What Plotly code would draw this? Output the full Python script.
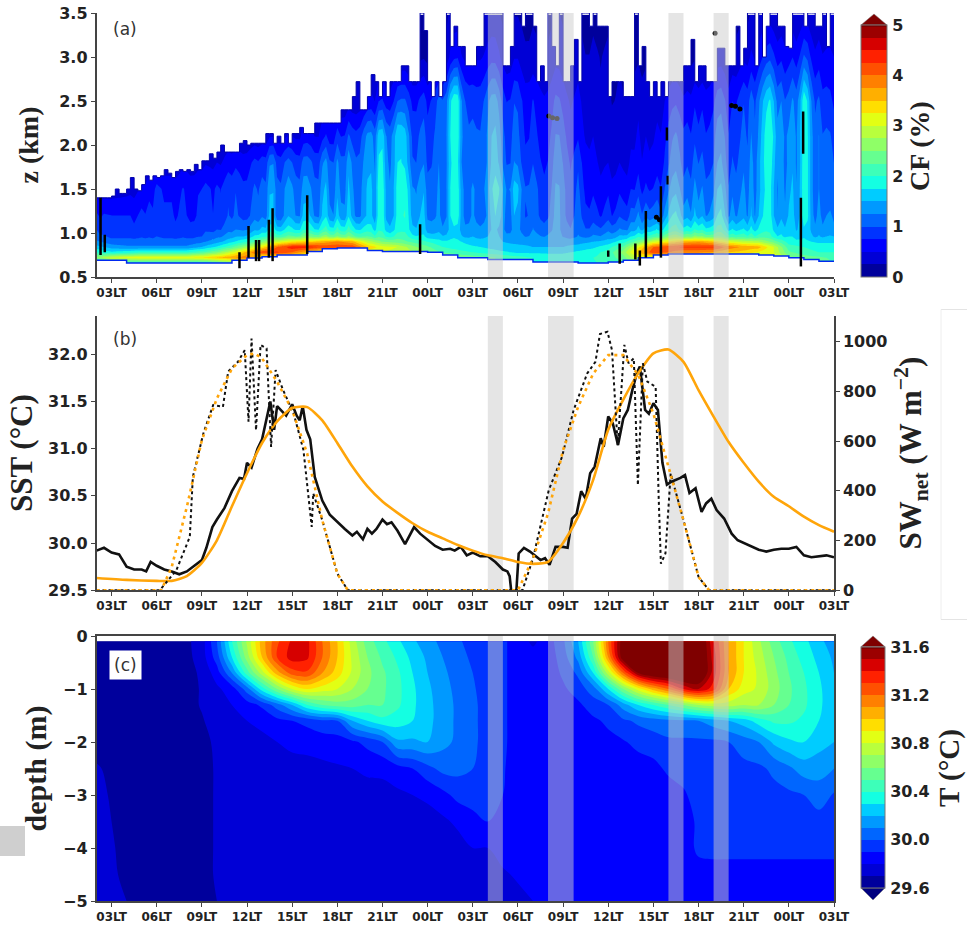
import numpy as np
import plotly.graph_objects as go

W, H = 967, 929
TITLE_FONT = "Liberation Serif"
TICK_FONT = "DejaVu Sans"
AXC = "#444444"
TXT = "#222222"
ORANGE = "#ffa50a"

xtick_vals = list(range(3, 52, 3))
xtick_text = ["03LT", "06LT", "09LT", "12LT", "15LT", "18LT", "21LT", "00LT", "03LT",
              "06LT", "09LT", "12LT", "15LT", "18LT", "21LT", "00LT", "03LT"]

band_start = [28, 32, 40, 43]
band_end = [29, 33.7, 41, 44]

# ---- panel (a): cloud fraction, hourly columns t=2..51
cf_hours = list(range(2, 52))
cf_heights = [0.66, 0.72, 0.78, 0.84, 0.90, 0.96, 1.04, 1.2, 1.5, 1.8, 2.1, 2.5, 3.0, 3.48]
cf_066 = [1.5,2,2,2,2,2,2,2,2.2,2.5, 3,3,3,3,3,3,3,3,3,3, 3,3,3,3,3,3,2.5,2,2,2, 2,2,2,2,2,2.2,2.6,3,3,3, 3,3,3,3,3,3,3,3,2.5,2.2]
cf_072 = [2.6,3.0,3.1,3.2,3.2,3.2,3.2,3.3,3.5,3.7, 3.9,3,3,3,3,3,3,3,3,3, 3,3,3,3,2.5,2.4,2.3,2.2,2.1,2.0, 1.9,1.9,1.9,2.0,2.1,2.4,3.0,3,3,3, 3,3,3,3,3,3.2,2.6,2.4,2.3,2.2]
cf_078 = [2.0,1.8,1.9,2,2,2,2,2.2,2.5,3, 3.6,4.2,4.3,4,3.5,3,3,3,3,3, 2.9,2.8,2.5,2.2,2.1,2.0,1.9,1.8,1.7,1.7, 1.7,1.7,1.8,1.9,2.1,2.6,3.5,4.2,4,3.8, 3.8,3.7,3.5,3.4,3.2,3,2.3,2.1,2,2]
cf_084 = [1.6,1.4,1.3,1.3,1.3,1.3,1.3,1.5,1.8,2.2, 2.7,3.3,4.0,4.4,4.4,4.2,4.2,4.2,3.5,3.1, 3.0,2.6,2.3,2.0,1.9,1.8,1.7,1.6,1.6,1.5, 1.5,1.5,1.6,1.7,1.9,2.3,3.2,4.0,4.2,4.3, 4.3,4.3,3.9,3.7,3.6,3,2.1,2.0,1.9,1.9]
cf_090 = [1.3,1.1,1.1,1.1,1.1,1.1,1.1,1.2,1.4,1.7, 2.0,2.5,3.0,3.3,3.4,3.6,3.8,3.6,2.9,2.5, 2.4,2.2,2.0,1.8,1.8,1.6,1.6,1.5,1.4,1.4, 1.4,1.4,1.4,1.5,1.6,1.9,2.4,3,3.3,3.6, 3.7,3.5,3.1,2.9,2.8,2.4,1.9,1.8,1.7,1.7]
cf_096 = [1.1,.95,.95,.95,.95,.95,.95,1.0,1.2,1.4, 1.6,1.9,2.2,2.3,2.4,2.5,2.5,2.4,2.2,2.0, 2.0,1.9,1.7,1.6,1.6,1.5,1.5,1.4,1.3,1.3, 1.3,1.2,1.2,1.3,1.4,1.6,1.9,2.2,2.4,2.5, 2.6,2.4,2.2,2.1,2.1,1.9,1.7,1.6,1.5,1.5]
cf_104 = [1.0,.85,.85,.85,.85,.85,.85,.9,1.0,1.15, 1.3,1.5,1.7,1.8,1.8,1.9,2.0,1.9,1.8,1.7, 1.7,1.7,1.5,1.4,1.5,1.4,1.4,1.3,1.2,1.2, 1.2,1.1,1.1,1.1,1.2,1.3,1.5,1.7,1.8,1.9, 2.0,1.9,1.8,1.7,1.8,1.7,1.6,1.5,1.4,1.3]
cf_120 = [.8,.75,.75,.75,.8,.8,.75,.8,.85,.95, 1.0,1.1,1.2,1.4,1.3,1.4,1.5,1.4,1.4,1.5, 1.5,1.6,1.4,1.3,1.6,1.3,1.3,1.4,1.2,1.1, 1.0,1.0,1.0,.9,.9,1.0,1.2,1.2,1.3,1.5, 1.5,1.4,1.4,1.3,1.5,1.5,1.4,1.5,1.3,1.2]
cf_150 = [.35,.35,.4,.5,.7,.7,.7,.75,.8,.9, .9,1,1.2,1.3,1.1,1.3,1.3,1.3,1.4,1.5, 1.5,1.5,1.3,1.3,1.6,1.3,1.4,1.5,1.3,1.1, .9,1.0,.9,.7,.7,.7,.8,.8,1.0,1.2, 1.3,1.2,1.2,1.2,1.4,1.5,1.3,1.5,1.2,1]
cf_180 = [.3,.3,.3,.3,.3,.3,.4,.4,.5,.6, .7,.8,1.0,1,.9,1.1,1.2,1.2,1.3,1.4, 1.4,1.2,1.1,1.3,1.5,1.1,1.3,1.2,1,.9, .8,.9,.8,.6,.5,.5,.6,.6,.8,1.0, 1.1,1.0,1.0,1.1,1.4,1.6,1.2,1.5,1.2,1]
cf_210 = [.3,.3,.3,.3,.3,.3,.3,.3,.3,.3, .3,.3,.4,.5,.5,.6,.8,.9,1.2,1.3, 1.4,1.1,1.0,1.3,1.6,1.1,1.3,1.1,.9,.8, .7,.8,.6,.5,.4,.4,.5,.5,.7,.9, .9,.9,.9,1,1.3,1.7,1.2,1.5,1.2,.9]
cf_250 = [.3,.3,.3,.3,.3,.3,.3,.3,.3,.3, .3,.3,.3,.3,.3,.3,.3,.3,.5,.6, .8,.8,.8,1.2,1.6,.9,1.2,.9,.8,.7, .6,.6,.5,.4,.3,.3,.4,.4,.5,.6, .7,.7,.7,.9,1.2,1.5,1,1.5,1,.7]
cf_300 = [.2,.2,.2,.2,.2,.2,.2,.2,.2,.2, .2,.2,.2,.2,.2,.2,.2,.2,.2,.2, .2,.2,.2,.3,.6,.5,.6,.4,.4,.3, .3,.3,.3,.3,.3,.2,.2,.2,.2,.2, .2,.3,.3,.4,.6,.8,.6,.8,.6,.5]
cf_350 = [.2,.2,.2,.2,.2,.2,.2,.2,.2,.2, .2,.2,.2,.2,.2,.2,.2,.2,.2,.2, .2,.2,.2,.2,.3,.3,.3,.2,.2,.2, .2,.2,.2,.2,.2,.2,.2,.2,.2,.2, .2,.2,.2,.2,.3,.3,.3,.3,.3,.3]
cf_table = [cf_066, cf_072, cf_078, cf_084, cf_090, cf_096, cf_104, cf_120, cf_150, cf_180, cf_210, cf_250, cf_300, cf_350]

# quarter-hourly streak strength read from the vertical stripes above the ridge
cf_streaks = [
    1,.9,1,1, 1,1,1,1, 1,1,.9,1, 1.1,1,1.1,1, 1.2,1.1,1,1, 1,.9,1,1.1, 1,.9,.9,1,
    1,1.1,1,.9, 1,.9,1,1.1, 1,1.1,1,.9, .9,1,1.1,1, 1.1,1,1.35,1.3, .9,.85,1,1.1, 1,.9,.9,1.2,
    1.25,1.1,.9,.85, 1.1,1.2,.9,.85, 1.1,.9,.9,1.2, 1,.85,.85,1.0, 1.1,1.1,.9,1.3, 1.3,.95,.85,1,
    1.25,1.3,1.3,1.1, .85,.85,1,1.1, .85,.85,.9,1, .85,.9,1.2,1.3, 1.2,.9,.8,.85, 1,.9,.85,.9,
    1,1.2,1.3,1.2, 1,.85,.9,1.2, 1.2,1,.85,.9, 1.1,1,.9,.85, .95,1.1,1.35,1.3, 1.1,.95,.85,1,
    1.2,1,.85,.85, 1,.9,.8,.9, 1,.8,.85,1, .9,.8,1,.95, 1.1,.85,1,.9, .95,1,.85,1.05,
    1.2,1.3,1.3,1.1, .9,.95,.85,1.05, .9,1,.85,.9, 1,1.25,1.3,1.1, .85,1,.9,1, 1.1,.9,1.1,.85,
    1,1.15,1.25,1.25, 1,.85,1,.9, 1.1,1.15,.9,1.05, 1.3,1.25,1,.85, 1.05,.9,1,1.05, 1]
streak_weight = [0, 0, 0, 0, 0, 0.3, 0.5, 1, 1, 1, 1, 1, 1, 1]

# cloud top, quarter-hour steps from t=2
cloud_top = [
    1.40,1.40,1.40,1.40, 1.42,1.50,1.45,1.45, 1.50,1.63,1.50,1.48, 1.55,1.65,1.60,1.65,
    1.63,1.65,1.72,1.68, 1.63,1.70,1.72,1.70, 1.72,1.70,1.78,1.72, 1.82,1.82,1.90,1.85,
    1.92,2.00,1.92,1.92, 1.92,1.92,2.02,2.05, 2.00,2.02,2.02,2.02, 2.02,2.13,2.13,2.02,
    2.10,2.02,2.13,2.02, 2.13,2.13,2.20,2.13, 2.13,2.13,2.25,2.25, 2.25,2.25,2.25,2.25,
    2.25,2.40,2.40,2.40, 2.55,2.72,2.40,2.40, 2.55,2.80,2.72,2.55, 2.72,2.55,2.72,2.72,
    2.72,2.90,2.90,2.72, 2.72,2.72,3.50,3.30, 2.72,2.55,2.72,2.55, 2.72,3.50,3.12,3.35,
    3.12,3.12,2.90,2.90, 2.90,3.12,3.12,3.50, 3.50,3.50,3.50,3.50, 2.90,2.90,3.12,3.50,
    3.50,3.35,3.50,3.50, 3.35,2.72,2.90,2.72, 3.50,3.12,2.90,3.50, 2.72,2.72,2.90,3.20,
    2.72,3.50,3.50,3.35, 3.50,3.35,3.35,3.35, 2.55,2.72,2.72,2.72, 2.55,2.55,2.55,3.50,
    2.90,3.12,2.72,2.55, 2.72,2.55,2.72,2.55, 2.72,2.72,2.72,2.72, 2.90,2.90,3.20,2.72,
    2.90,2.90,2.72,2.72, 2.72,3.10,3.10,2.90, 2.90,2.90,3.35,2.90, 3.10,3.50,3.50,2.90,
    3.50,3.00,3.35,3.50, 3.50,3.35,3.35,3.12, 3.10,3.50,3.50,3.50, 3.35,3.50,3.50,3.35,
    3.35,3.50,3.12,3.50, 3.50]
top_hours = [2 + 0.25 * i for i in range(len(cloud_top))]

# cloud base, hourly
cloud_base = [0.69,0.69,0.66,0.66,0.66,0.66,0.66,0.66,0.66,0.69, 0.715,0.73,0.75,0.75,0.79,0.82,0.83,0.83,0.80,0.79,
              0.79,0.79,0.78,0.75,0.72,0.72,0.70,0.70,0.70,0.67, 0.67,0.67,0.66,0.66,0.67,0.69,0.72,0.75,0.76,0.76,
              0.76,0.76,0.76,0.76,0.75,0.74,0.72,0.70,0.68,0.68]

# instrument artefacts
art_hours = [2.27,2.55,11.5,12.1,12.6,12.8,13.45,13.7,16.0,23.5,36.76,36.0,37.8,38.1,38.5,39.5,48.8,48.95,39.9,39.95]
art_low = [0.75,0.78,0.60,0.72,0.68,0.68,0.72,0.68,0.76,0.76,0.65,0.73,0.70,0.63,0.72,0.72,0.62,1.9,2.05,1.55]
art_high = [1.40,0.98,0.78,1.08,0.92,0.92,1.15,1.28,1.43,1.10,0.88,0.80,0.88,0.80,1.25,1.53,1.40,2.38,2.2,1.65]
blob_hours = [32.05,32.3,32.6,44.2,44.45,44.75,43.1,39.2,39.4]
blob_heights = [2.33,2.31,2.3,2.45,2.44,2.41,3.27,1.18,1.15]

# ---- panel (b)
sst_hours = [2,2.5,3,3.5,4,4.5,5,5.3,5.6,6,6.5,7,7.5,8,8.5,9,9.3,9.7,10,10.5,11,11.5,11.8,12,12.3,12.7,13,13.3,13.55,13.8,14,14.3,14.6,15,15.3,15.5,15.7,15.95,16.2,16.5,16.8,17,17.5,18,18.5,19,19.3,19.7,20,20.3,20.6,21,21.3,21.6,22,22.5,23.1,23.5,24,24.5,25,25.5,25.8,26.2,26.6,27,27.5,
             28,28.5,29,29.3,29.45,29.55,29.9,30.05,30.4,30.8,31.5,31.8,32.1,32.5,33,33.3,33.6,33.9,34.2,34.5,34.8,35.1,35.5,35.7,36,36.3,36.65,37,37.3,37.6,37.9,38.1,38.45,38.7,39,39.3,39.6,39.9,40.2,40.8,41.1,41.4,41.8,42.2,42.5,42.85,43.2,43.7,44.2,44.6,45,45.5,46,46.5,47,47.5,48,48.5,49,49.5,50,50.5,51]
sst_obs = [29.92,29.95,29.9,29.88,29.75,29.72,29.72,29.7,29.8,29.76,29.72,29.7,29.67,29.7,29.76,29.82,29.95,30.17,30.25,30.37,30.55,30.69,30.68,30.85,30.8,31.0,31.1,31.3,31.5,31.2,31.45,31.4,31.35,31.47,31.35,31.3,31.45,31.2,31.1,30.7,30.55,30.45,30.3,30.22,30.15,30.08,30.12,30.04,30.15,30.1,30.15,30.25,30.2,30.22,30.13,29.99,30.17,30.1,30.03,29.97,29.93,29.94,29.92,29.96,29.87,29.9,29.86,
           29.86,29.8,29.72,29.7,29.65,29.5,29.5,29.89,29.95,29.91,29.82,29.84,29.77,29.96,29.96,29.95,30.26,30.31,30.55,30.47,30.74,30.81,31.11,31.02,31.34,31.27,31.04,31.32,31.41,31.62,31.8,31.87,31.41,31.37,31.48,31.41,30.85,30.62,30.65,30.69,30.72,30.53,30.58,30.33,30.42,30.47,30.35,30.26,30.1,30.03,30.0,29.96,29.93,29.91,29.93,29.94,29.94,29.96,29.87,29.85,29.86,29.87,29.85]
model_hours = [2,4,6,7,8,9,10,11,12,13,14,15,16,17,18,19,20,21,22,23,24,25,26,27,28,29,30,31,32,33,34,35,36,37,38,39,40,41,42,43,44,45,46,47,48,49,50,51]
sst_model = [29.63,29.61,29.6,29.6,29.65,29.79,30.03,30.39,30.74,31.06,31.29,31.43,31.44,31.3,31.06,30.81,30.6,30.44,30.32,30.21,30.12,30.05,29.98,29.92,29.87,29.84,29.8,29.78,29.8,30.0,30.28,30.67,31.2,31.52,31.8,32.01,32.05,31.92,31.62,31.34,31.07,30.85,30.65,30.49,30.39,30.28,30.19,30.12]
sw_clear_hours = [2,6.3,7,8,9,10,11,12,12.5,13,14,15,16,17,18,18.7,30,31,32,33,34,35,36,37,38,39,40,41,42,42.7,51]
sw_clear = [0,0,94,335,604,772,892,946,953,933,839,725,550,282,67,0,0,128,309,564,738,872,946,946,866,711,497,282,54,0,0]
sw_obs_hours = [2,6.2,7.3,8.2,8.4,9.1,9.75,10.4,10.75,11.4,11.85,12.1,12.3,12.6,12.9,13.3,13.6,13.9,14.4,15.1,15.75,16.3,16.4,17,18,18.7,30.3,31,32.05,32.93,33.7,34.6,35.15,35.45,35.95,36.25,36.63,37.07,37.35,37.7,37.97,38.3,38.6,39.15,39.35,39.5,39.8,40.15,41,42,42.7,51]
sw_obs = [0,0,80,215,456,631,745,738,880,919,966,678,1013,644,987,973,577,886,805,711,564,255,390,282,67,0,0,128,403,537,725,872,919,1031,1040,966,584,987,913,933,423,913,839,819,376,107,148,470,282,54,0,0]

# ---- panel (c): temperature, one list per hour column
temp_hours = [2,4,6,8,9,10,11,12,13,14,15,16,17,18,19,20,21,22,23,24,25,26,27,28,29,30,31,32,33,34,35,36,37,38,39,40,41,42,43,44,45,46,47,48,49,50,51]
temp_depths = [-0.1,-0.4,-0.7,-1.0,-1.3,-1.6,-2.0,-2.5,-3.0,-3.5,-4.0,-4.5,-5.0]
temp_columns = [
 [29.65,29.65,29.65,29.65,29.65,29.65,29.66,29.71,29.73,29.74,29.75,29.75,29.76],
 [29.65,29.65,29.65,29.65,29.65,29.65,29.65,29.65,29.65,29.66,29.67,29.68,29.70],
 [29.65,29.65,29.65,29.65,29.65,29.65,29.65,29.65,29.65,29.65,29.65,29.65,29.65],
 [29.68,29.67,29.66,29.66,29.66,29.66,29.66,29.66,29.66,29.66,29.66,29.66,29.66],
 [29.75,29.75,29.72,29.71,29.71,29.69,29.67,29.67,29.67,29.67,29.67,29.67,29.67],
 [30.0,29.95,29.85,29.78,29.76,29.75,29.72,29.71,29.71,29.71,29.71,29.71,29.70],
 [30.4,30.3,30.1,29.85,29.8,29.76,29.75,29.75,29.75,29.75,29.75,29.75,29.75],
 [30.72,30.65,30.45,30.05,29.85,29.8,29.76,29.75,29.75,29.75,29.75,29.75,29.75],
 [31.05,31.0,30.75,30.35,29.92,29.82,29.78,29.76,29.75,29.75,29.75,29.75,29.75],
 [31.28,31.3,31.05,30.6,30.05,29.87,29.8,29.76,29.75,29.75,29.75,29.75,29.75],
 [31.42,31.45,31.25,30.8,30.2,29.9,29.82,29.77,29.75,29.75,29.75,29.75,29.75],
 [31.43,31.42,31.28,30.9,30.4,29.93,29.83,29.77,29.75,29.75,29.75,29.75,29.75],
 [31.2,31.2,31.1,30.85,30.5,29.98,29.84,29.78,29.75,29.75,29.75,29.75,29.75],
 [31.0,31.0,30.95,30.8,30.55,30.0,29.85,29.79,29.75,29.75,29.75,29.75,29.75],
 [30.75,30.78,30.78,30.7,30.55,30.2,29.88,29.8,29.76,29.75,29.75,29.75,29.75],
 [30.55,30.6,30.63,30.6,30.5,30.3,29.93,29.82,29.76,29.75,29.75,29.75,29.75],
 [30.43,30.48,30.52,30.52,30.5,30.37,30.0,29.82,29.77,29.75,29.75,29.75,29.75],
 [30.32,30.38,30.42,30.43,30.42,30.35,30.18,29.86,29.78,29.76,29.75,29.75,29.75],
 [30.22,30.27,30.3,30.32,30.32,30.3,30.18,29.9,29.8,29.76,29.75,29.75,29.75],
 [30.14,30.18,30.2,30.22,30.23,30.23,30.2,29.97,29.82,29.76,29.75,29.75,29.75],
 [30.07,30.1,30.12,30.14,30.15,30.15,30.13,30.03,29.87,29.78,29.75,29.75,29.75],
 [30.02,30.04,30.06,30.07,30.08,30.08,30.08,30.03,29.93,29.82,29.76,29.75,29.75],
 [29.95,29.98,30.0,30.01,30.02,30.02,30.02,30.0,29.94,29.87,29.8,29.75,29.75],
 [29.92,29.94,29.95,29.96,29.96,29.96,29.96,29.95,29.93,29.9,29.8,29.77,29.75],
 [29.92,29.92,29.92,29.92,29.92,29.92,29.92,29.91,29.9,29.86,29.83,29.79,29.76],
 [29.85,29.85,29.85,29.85,29.85,29.85,29.85,29.85,29.85,29.85,29.83,29.81,29.78],
 [29.78,29.84,29.85,29.85,29.85,29.85,29.85,29.85,29.85,29.85,29.84,29.82,29.8],
 [29.85,29.84,29.83,29.83,29.83,29.83,29.83,29.83,29.83,29.83,29.83,29.83,29.83],
 [29.98,29.95,29.92,29.88,29.85,29.84,29.84,29.84,29.84,29.84,29.84,29.84,29.84],
 [30.2,30.13,30.02,29.95,29.88,29.86,29.84,29.84,29.84,29.84,29.84,29.84,29.84],
 [30.6,30.5,30.3,30.05,29.95,29.88,29.86,29.85,29.85,29.85,29.85,29.85,29.85],
 [31.2,31.1,30.75,30.3,30.0,29.92,29.87,29.85,29.85,29.85,29.85,29.85,29.85],
 [31.7,31.7,31.2,30.6,30.15,29.98,29.89,29.85,29.85,29.85,29.85,29.85,29.85],
 [31.8,31.85,31.6,30.85,30.3,30.02,29.93,29.85,29.85,29.85,29.85,29.85,29.85],
 [31.9,31.9,31.75,31.05,30.4,30.05,29.95,29.87,29.85,29.85,29.85,29.85,29.85],
 [32.0,32.0,31.8,31.2,30.5,30.07,29.98,29.92,29.85,29.85,29.85,29.85,29.85],
 [31.9,31.9,31.85,31.4,30.6,30.08,29.98,29.93,29.89,29.85,29.85,29.85,29.85],
 [31.8,31.8,31.8,31.5,30.7,30.1,29.98,29.95,29.93,29.92,29.92,29.86,29.85],
 [31.4,31.45,31.45,31.35,30.75,30.15,29.98,29.95,29.94,29.93,29.93,29.86,29.85],
 [31.1,31.1,31.1,31.0,30.75,30.2,30.0,29.96,29.94,29.93,29.93,29.86,29.85],
 [30.9,30.9,30.9,30.85,30.7,30.25,30.05,29.97,29.95,29.93,29.93,29.86,29.85],
 [30.72,30.75,30.78,30.78,30.7,30.35,30.1,29.98,29.95,29.94,29.93,29.86,29.85],
 [30.55,30.6,30.63,30.65,30.6,30.42,30.22,30.02,29.97,29.94,29.93,29.86,29.85],
 [30.42,30.47,30.5,30.52,30.5,30.42,30.28,30.08,29.98,29.95,29.93,29.86,29.85],
 [30.33,30.36,30.4,30.42,30.42,30.38,30.3,30.15,30.0,29.95,29.93,29.86,29.85],
 [30.23,30.27,30.3,30.32,30.32,30.3,30.24,30.14,30.05,29.96,29.93,29.86,29.85],
 [30.14,30.18,30.2,30.22,30.23,30.23,30.2,30.1,29.99,29.95,29.93,29.86,29.85],
]

JET = [[0, "rgb(0,0,127)"], [.11, "rgb(0,0,255)"], [.125, "rgb(0,0,255)"], [.34, "rgb(0,219,255)"],
       [.375, "rgb(20,255,226)"], [.64, "rgb(238,255,8)"], [.66, "rgb(255,236,0)"], [.89, "rgb(255,19,0)"],
       [.91, "rgb(232,0,0)"], [1, "rgb(127,0,0)"]]


def fx(px):
    return px / W


def fy(py):
    return 1 - py / H


X_DOM = [fx(96.5), fx(834)]
tick_font = dict(family=TICK_FONT, size=16, color=TXT, weight="bold")
xt_font = dict(family=TICK_FONT, size=12, color=TXT, weight="bold")


def tfont(size):
    return dict(family=TITLE_FONT, size=size, color=TXT, weight="bold")


# combine the hourly table with the quarter-hourly stripes
fine_hours = top_hours
cf_fine = np.array([np.interp(fine_hours, cf_hours, row) * np.array(cf_streaks) ** w
                    for row, w in zip(cf_table, streak_weight)])

fig = go.Figure()

# panel a
fig.add_trace(go.Contour(
    x=fine_hours, y=cf_heights, z=cf_fine, xaxis="x", yaxis="y",
    colorscale=JET, zmin=0, zmax=5, autocontour=False,
    contours=dict(start=0, end=5, size=0.25, coloring="fill", showlines=False),
    line=dict(width=0, smoothing=0),
    colorbar=dict(x=fx(861), xanchor="left", y=fy(277), yanchor="bottom", yref="paper",
                  len=(277 - 25) / H, lenmode="fraction", thickness=26, xpad=0, ypad=0,
                  outlinecolor="#777", outlinewidth=1,
                  tickvals=[0, 1, 2, 3, 4, 5], ticks="outside", ticklen=2, tickcolor="rgba(0,0,0,0)",
                  tickfont=tick_font),
    hoverinfo="skip"))
fig.add_trace(go.Scatter(x=top_hours, y=cloud_top, mode="lines", line=dict(color="rgb(0,0,170)", width=1, shape="hv"),
                         xaxis="x", yaxis="y", showlegend=False, hoverinfo="skip"))
fig.add_trace(go.Scatter(x=top_hours, y=[3.7] * len(top_hours), mode="lines", line=dict(width=0, shape="hv"),
                         fill="tonexty", fillcolor="white", xaxis="x", yaxis="y", showlegend=False, hoverinfo="skip"))
fig.add_trace(go.Scatter(x=cf_hours, y=cloud_base, mode="lines", line=dict(color="rgb(0,40,240)", width=1.5, shape="hv"),
                         xaxis="x", yaxis="y", showlegend=False, hoverinfo="skip"))
fig.add_trace(go.Scatter(x=cf_hours, y=[0.5] * len(cf_hours), mode="lines", line=dict(width=0),
                         fill="tonexty", fillcolor="white", xaxis="x", yaxis="y", showlegend=False, hoverinfo="skip"))
ax_, ay_ = [], []
for h, lo, hi in zip(art_hours, art_low, art_high):
    ax_ += [h, h, None]
    ay_ += [lo, hi, None]
fig.add_trace(go.Scatter(x=ax_, y=ay_, mode="lines", line=dict(color="black", width=2.5),
                         xaxis="x", yaxis="y", showlegend=False, hoverinfo="skip"))
fig.add_trace(go.Scatter(x=blob_hours, y=blob_heights, mode="markers", marker=dict(color="black", size=5),
                         xaxis="x", yaxis="y", showlegend=False, hoverinfo="skip"))

# panel b
fig.add_trace(go.Scatter(x=sw_obs_hours, y=sw_obs, mode="lines", line=dict(color="#111", width=2, dash="3px,3px"),
                         xaxis="x2", yaxis="y3", showlegend=False, name="SW net"))
fig.add_trace(go.Scatter(x=sw_clear_hours, y=sw_clear, mode="lines", line=dict(color=ORANGE, width=2.6, dash="3px,4px"),
                         xaxis="x2", yaxis="y3", showlegend=False, name="SW clear"))
fig.add_trace(go.Scatter(x=sst_hours, y=sst_obs, mode="lines", line=dict(color="#111", width=2.6),
                         xaxis="x2", yaxis="y2", showlegend=False, name="SST obs"))
fig.add_trace(go.Scatter(x=model_hours, y=sst_model, mode="lines", line=dict(color=ORANGE, width=2.6, shape="spline", smoothing=0.6),
                         xaxis="x2", yaxis="y2", showlegend=False, name="SST model"))

# panel c
fig.add_trace(go.Contour(
    x=temp_hours, y=temp_depths, z=np.array(temp_columns).T, xaxis="x3", yaxis="y4",
    colorscale=JET, zmin=29.6, zmax=31.6, autocontour=False,
    contours=dict(start=29.6, end=31.6, size=0.1, coloring="fill", showlines=False),
    line=dict(width=0),
    colorbar=dict(x=fx(861), xanchor="left", y=fy(888), yanchor="bottom", yref="paper",
                  len=(888 - 646.7) / H, lenmode="fraction", thickness=24, xpad=0, ypad=0,
                  outlinecolor="#777", outlinewidth=1,
                  tickvals=[29.6, 30.0, 30.4, 30.8, 31.2, 31.6], ticktext=["29.6", "30.0", "30.4", "30.8", "31.2", "31.6"],
                  ticks="outside", ticklen=2, tickcolor="rgba(0,0,0,0)", tickfont=tick_font),
    hoverinfo="skip"))

common_x = dict(domain=X_DOM, range=[2, 51], tickvals=xtick_vals, ticktext=xtick_text, tickfont=xt_font,
                ticks="outside", ticklen=4, tickwidth=1.3, tickcolor=AXC, showgrid=False, zeroline=False,
                showline=True, linecolor=AXC, linewidth=1.5, tickangle=0)
common_y = dict(ticks="outside", ticklen=4, tickwidth=1.3, tickcolor=AXC, showgrid=False, zeroline=False,
                showline=True, linecolor=AXC, linewidth=1.5, tickfont=tick_font)

shapes = []
for s, e in zip(band_start, band_end):
    for xr, yd, layer in (("x", "y domain", "above"), ("x2", "y2 domain", "below"), ("x3", "y4 domain", "above")):
        shapes.append(dict(type="rect", xref=xr, yref=yd, x0=s, x1=e, y0=0, y1=1, layer=layer,
                           fillcolor="rgba(204,204,204,0.5)", line=dict(width=0)))


def tri(points, color):
    p = " L ".join(f"{fx(a):.5f} {fy(b):.5f}" for a, b in points)
    return dict(type="path", xref="paper", yref="paper", path=f"M {p} Z", fillcolor=color, line=dict(color="#777", width=0.5), layer="above")


shapes += [
    tri([(861, 25), (874, 14), (887, 25)], "rgb(127,0,0)"),
    tri([(861, 646.7), (873, 636), (885, 646.7)], "rgb(127,0,0)"),
    tri([(861, 888), (873, 900), (885, 888)], "rgb(0,0,127)"),
    # scanning leftovers around the panels
    dict(type="rect", xref="paper", yref="paper", x0=0, x1=fx(25), y0=fy(856), y1=fy(826), fillcolor="#cfcfcf", line=dict(width=0), layer="below"),
    dict(type="line", xref="paper", yref="paper", x0=fx(941), x1=1, y0=fy(309.5), y1=fy(309.5), line=dict(color="#e4e4e4", width=1)),
    dict(type="line", xref="paper", yref="paper", x0=fx(941), x1=fx(941), y0=fy(309.5), y1=fy(619.5), line=dict(color="#eeeeee", width=1)),
    dict(type="line", xref="paper", yref="paper", x0=fx(941), x1=1, y0=fy(619.5), y1=fy(619.5), line=dict(color="#e4e4e4", width=1)),
]

label_font = dict(family=TICK_FONT, size=17, color="#333")
ann = dict(xref="paper", yref="paper", showarrow=False, xanchor="center", yanchor="middle")
annotations = [
    dict(text="(a)", x=fx(125), y=fy(29), font=label_font, **ann),
    dict(text="(b)", x=fx(125), y=fy(339), font=label_font, **ann),
    dict(text="(c)", x=fx(125), y=fy(665), font=label_font, bgcolor="white", borderpad=4, **ann),
    dict(text="CF (%)", x=fx(920), y=fy(146), textangle=-90, font=tfont(28), **ann),
    dict(text="T (°C)", x=fx(949), y=fy(768), textangle=-90, font=tfont(29), **ann),
]

fig.update_layout(
    width=W, height=H, margin=dict(l=0, r=0, t=0, b=0, autoexpand=False), paper_bgcolor="white", plot_bgcolor="white",
    showlegend=False, shapes=shapes, annotations=annotations,
    xaxis={**common_x, "anchor": "y"},
    yaxis={**common_y, "domain": [fy(277), fy(13)], "range": [0.5, 3.5], "anchor": "x",
           "tickvals": [0.5, 1, 1.5, 2, 2.5, 3, 3.5], "ticktext": ["0.5", "1.0", "1.5", "2.0", "2.5", "3.0", "3.5"],
           "title": dict(text="z (km)", font=tfont(28), standoff=12)},
    xaxis2={**common_x, "anchor": "y2"},
    yaxis2={**common_y, "domain": [fy(590.3), fy(316)], "range": [29.5, 32.405], "anchor": "x2",
            "tickvals": [29.5, 30, 30.5, 31, 31.5, 32], "ticktext": ["29.5", "30.0", "30.5", "31.0", "31.5", "32.0"],
            "title": dict(text="SST (°C)", font=tfont(31), standoff=6)},
    yaxis3={**common_y, "domain": [fy(590.3), fy(316)], "range": [0, 1103.3], "anchor": "x2", "side": "right",
            "overlaying": "y2", "tickvals": [0, 200, 400, 600, 800, 1000],
            "title": dict(text="SW<sub>net</sub> (W m<sup>−2</sup>)", font=tfont(31), standoff=13)},
    xaxis3={**common_x, "anchor": "y4", "mirror": True},
    yaxis4={**common_y, "domain": [fy(901), fy(636)], "range": [-5, 0], "anchor": "x3", "mirror": True,
            "tickvals": [0, -1, -2, -3, -4, -5],
            "title": dict(text="depth (m)", font=tfont(30), standoff=8)},
)

fig.write_html("out.html", config={"displayModeBar": False}, post_script="document.body.style.margin='0';")
